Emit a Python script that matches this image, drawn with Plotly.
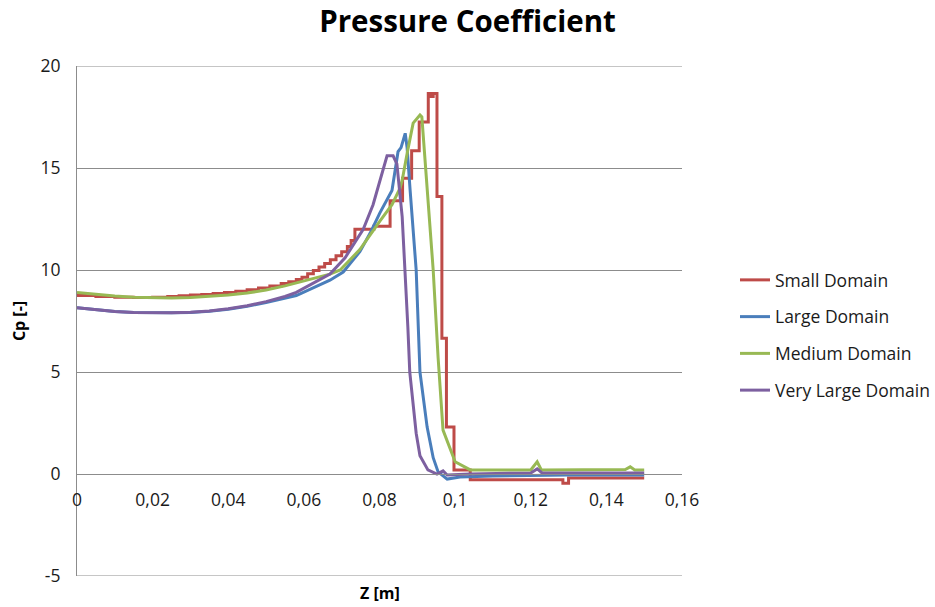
import plotly.graph_objects as go

# Pressure coefficient along Z for four domain sizes
small_z = [0, 0.005, 0.01, 0.015, 0.02, 0.024, 0.027, 0.030, 0.033, 0.036, 0.039, 0.042,
           0.045, 0.048, 0.051, 0.054, 0.056, 0.058, 0.0595, 0.061, 0.0625, 0.064, 0.0655,
           0.067, 0.0685, 0.070, 0.0715, 0.0725, 0.0735, 0.0785, 0.0828, 0.0861, 0.0885,
           0.0905, 0.0929, 0.0937, 0.0942, 0.0952, 0.0965, 0.0977, 0.0997, 0.104, 0.1285,
           0.1300, 0.15]
small_cp = [8.75, 8.7, 8.67, 8.65, 8.66, 8.7, 8.74, 8.77, 8.8, 8.85, 8.9, 8.96,
            9.03, 9.12, 9.22, 9.34, 9.43, 9.53, 9.65, 9.82, 9.98, 10.15, 10.32,
            10.5, 10.7, 10.9, 11.15, 11.45, 12.0, 12.15, 13.4, 14.5, 15.85,
            17.25, 18.65, 18.5, 18.65, 13.6, 6.65, 2.3, 0.2, -0.28, -0.45,
            -0.2, -0.2]

large_z = [0, 0.005, 0.01, 0.015, 0.02, 0.025, 0.03, 0.035, 0.04, 0.045, 0.05, 0.055,
           0.058, 0.0669, 0.0704, 0.0748, 0.0775, 0.0801, 0.0833, 0.0849, 0.0857, 0.0868,
           0.0873, 0.0881, 0.0897, 0.0907, 0.0926, 0.0942, 0.0955, 0.0979, 0.1013, 0.11,
           0.13, 0.15]
large_cp = [8.15, 8.05, 7.97, 7.92, 7.9, 7.9, 7.92, 7.98, 8.08, 8.22, 8.4, 8.6,
            8.75, 9.5, 9.9, 10.9, 11.8, 12.8, 13.9, 15.8, 16.0, 16.7,
            16.0, 13.9, 10.0, 5.0, 2.3, 0.8, 0.1, -0.25, -0.15, -0.1,
            -0.05, -0.05]

medium_z = [0, 0.005, 0.01, 0.015, 0.02, 0.025, 0.03, 0.035, 0.04, 0.045, 0.05, 0.055,
            0.06, 0.0669, 0.0696, 0.0748, 0.0801, 0.0833, 0.0854, 0.086, 0.0875, 0.0889,
            0.0907, 0.0912, 0.0942, 0.0955, 0.0968, 0.1, 0.104, 0.12, 0.1217, 0.1228,
            0.145, 0.1463, 0.1475, 0.15]
medium_cp = [8.9, 8.8, 8.72, 8.67, 8.64, 8.63, 8.65, 8.7, 8.77, 8.87, 9.02, 9.22,
             9.45, 9.8, 10.0, 11.0, 12.4, 13.2, 14.0, 14.4, 15.9, 17.2,
             17.6, 17.5, 10.0, 5.7, 2.15, 0.6, 0.2, 0.2, 0.6, 0.2,
             0.22, 0.35, 0.2, 0.2]

very_large_z = [0, 0.005, 0.01, 0.015, 0.02, 0.025, 0.03, 0.035, 0.04, 0.045, 0.05, 0.055,
                0.058, 0.062, 0.0669, 0.0709, 0.074, 0.0757, 0.0783, 0.0801, 0.082, 0.0836,
                0.0846, 0.086, 0.0868, 0.0875, 0.088, 0.0886, 0.0897, 0.0907, 0.0928, 0.0952,
                0.0968, 0.0979, 0.104, 0.12, 0.1217, 0.123, 0.15]
very_large_cp = [8.15, 8.05, 7.97, 7.92, 7.9, 7.9, 7.93, 7.99, 8.1, 8.25, 8.45, 8.7,
                 8.9, 9.3, 9.8, 10.6, 11.5, 12.0, 13.2, 14.4, 15.6, 15.6,
                 15.2, 12.6, 10.0, 7.2, 5.0, 3.9, 2.0, 0.9, 0.2, 0.0,
                 0.15, -0.05, 0.0, 0.05, 0.25, 0.05, 0.05]

series = [
    ("Small Domain", small_z, small_cp, "#BE4B48", "hv"),
    ("Large Domain", large_z, large_cp, "#4A7EBB", "linear"),
    ("Medium Domain", medium_z, medium_cp, "#98B954", "linear"),
    ("Very Large Domain", very_large_z, very_large_cp, "#7D60A0", "linear"),
]

x_ticks = [0, 0.02, 0.04, 0.06, 0.08, 0.1, 0.12, 0.14, 0.16]
y_ticks = [-5, 0, 5, 10, 15, 20]

FONT = "Open Sans"
GRID = "#8C8C8C"
TEXT = "#1a1a1a"

fig = go.Figure()
for name, z, cp, color, shape in series:
    fig.add_trace(go.Scatter(
        x=z, y=cp, name=name, mode="lines", legendgroup=name,
        line=dict(color=color, width=3, shape=shape),
    ))

# gridlines at the two ends of the value range (plotly skips grid at the edges)
edge_lines = [
    dict(type="line", xref="paper", x0=0, x1=1, yref="y", y0=v, y1=v,
         line=dict(color=GRID, width=1), layer="below")
    for v in (y_ticks[0], y_ticks[-1])
]

fig.update_layout(
    width=935, height=607,
    margin=dict(l=77, r=253, t=66, b=31, autoexpand=False),
    paper_bgcolor="white", plot_bgcolor="white",
    separators=",.",
    font=dict(family=FONT, size=17.5, color=TEXT),
    title=dict(text="<b>Pressure Coefficient</b>", x=0.5, xref="container",
               y=1 - 22 / 607, yref="container", yanchor="middle",
               font=dict(family=FONT, size=29.5, color="#000000")),
    showlegend=True,
    legend=dict(x=(735 - 77) / 605, xanchor="left", y=(576 - 335) / 510, yanchor="middle",
                traceorder="grouped", tracegroupgap=11,
                font=dict(family=FONT, size=17.5, color=TEXT),
                bgcolor="rgba(0,0,0,0)", borderwidth=0),
    xaxis=dict(range=[0, 0.16], tickvals=x_ticks, showgrid=False, zeroline=False,
               anchor="free", position=0.2, showline=True, linecolor=GRID, linewidth=1,
               ticks="", ticklabelstandoff=10,
               tickfont=dict(family=FONT, size=17.5, color=TEXT)),
    yaxis=dict(range=[-5, 20], tickvals=y_ticks, ticktext=[str(v) for v in y_ticks],
               showgrid=True, gridcolor=GRID, gridwidth=1,
               zeroline=True, zerolinecolor=GRID, zerolinewidth=1,
               showline=True, linecolor=GRID, linewidth=1, ticks="", ticklabelstandoff=12,
               tickfont=dict(family=FONT, size=17.5, color=TEXT),
               title=dict(text="<b>Cp [-]</b>", standoff=10,
                          font=dict(family=FONT, size=16, color="#000000"))),
    shapes=edge_lines,
    annotations=[dict(text="<b>Z [m]</b>", x=0.5, xref="paper", y=0, yref="paper",
                      yanchor="top", yshift=-4, showarrow=False,
                      font=dict(family=FONT, size=16, color="#000000"))],
)

fig.write_html("out.html")
